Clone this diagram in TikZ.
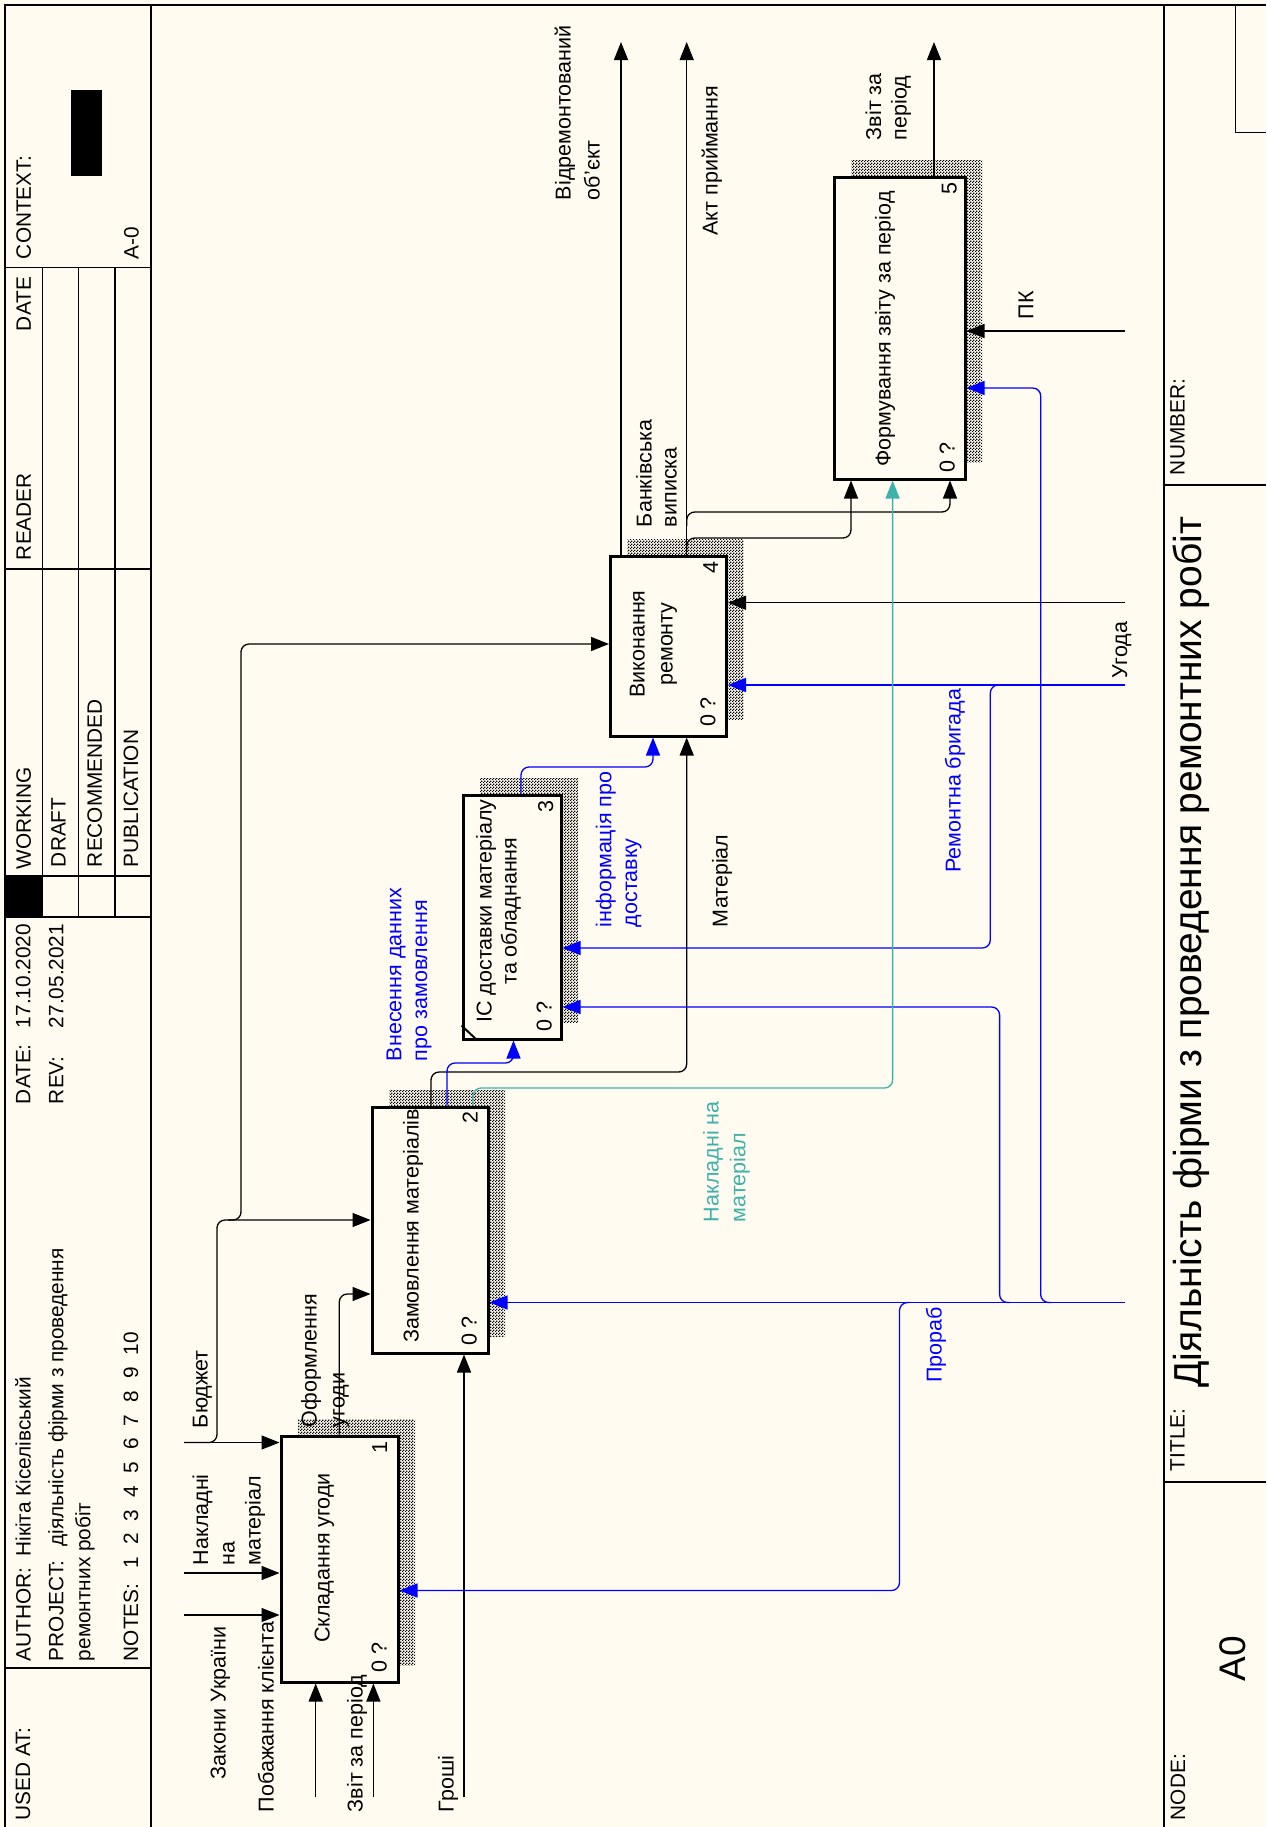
\documentclass[tikz,border=0pt]{standalone}
\usepackage{fontspec}
\setmainfont{Liberation Sans}
\usetikzlibrary{arrows.meta,patterns}
\definecolor{bg}{RGB}{255,251,240}
\definecolor{idblue}{RGB}{0,0,255}
\definecolor{idteal}{RGB}{60,178,170}
\pgfdeclarepatternformonly{finechk}{\pgfqpoint{0pt}{0pt}}{\pgfqpoint{1.5pt}{1.5pt}}{\pgfqpoint{1.5pt}{1.5pt}}{%
  \pgfpathrectangle{\pgfqpoint{0pt}{0pt}}{\pgfqpoint{0.75pt}{0.75pt}}%
  \pgfpathrectangle{\pgfqpoint{0.75pt}{0.75pt}}{\pgfqpoint{0.75pt}{0.75pt}}%
  \pgfusepath{fill}}
\tikzset{
  lbl/.style={rotate=90, anchor=west, inner sep=0pt, outer sep=0pt,
    font=\fontsize{10.75}{13}\selectfont, text height=8pt, text depth=2.3pt},
  btxt/.style={lbl, anchor=center},
  hdr/.style={rotate=90, anchor=west, inner sep=0pt, outer sep=0pt,
    font=\fontsize{10.4}{12.5}\selectfont, text height=7.8pt, text depth=2.2pt},
  fbox/.style={draw, line width=1.5pt, fill=bg, inner sep=0pt},
  shade/.style={pattern=finechk, pattern color=black},
  conn/.style={line width=0.65pt, rounded corners=4pt, -{Triangle[length=9pt,width=7pt]}},
  frm/.style={line width=1pt},
  gridl/.style={line width=0.75pt},
}
\begin{document}
\begin{tikzpicture}[x=0.5pt,y=-0.5pt]
\useasboundingbox (0,0) rectangle (1266,1827);
\fill[bg] (0,0) rectangle (1266,1827);
% frame
\draw[frm] (5,1827) -- (5,5) -- (1266,5);
\draw[frm] (151,5) -- (151,1827);
\draw[frm] (1164.3,5) -- (1164.3,1827);
% left header strip
\foreach \yy in {267.7,569,876,917,1668} \draw[gridl] (5,\yy) -- (151,\yy);
\foreach \xx in {42.4,78.7,115} \draw[gridl] (\xx,267.7) -- (\xx,917);
\fill (5,876) rectangle (42.4,917);
\fill (70.6,90) rectangle (102,176);
\node[hdr] (hCtx) at (25.2,259) {CONTEXT:};
\node[hdr] (hA0) at (133,259) {A-0};
\node[hdr] (hDate) at (25.2,331) {DATE};
\node[hdr] (hReader) at (25.2,560) {READER};
\node[hdr] (hWork) at (25.2,869) {WORKING};
\node[hdr] (hDraft) at (60,867) {DRAFT};
\node[hdr] (hRec) at (96.3,867) {RECOMMENDED};
\node[hdr] (hPub) at (132.6,867) {PUBLICATION};
\node[hdr] (hDt) at (24.8,1104) {DATE:};
\node[hdr] (hDtv) at (24.8,1028) {17.10.2020};
\node[hdr] (hRev) at (57.7,1104) {REV:};
\node[hdr] (hRevv) at (57.7,1028) {27.05.2021};
\node[hdr] (hAuth) at (25,1661) {AUTHOR:\hspace{5.5pt}Нікіта Кіселівський};
\node[hdr] (hProj) at (57.7,1661) {PROJECT:\hspace{7pt}діяльність фірми з проведення};
\node[hdr] (hProj2) at (84.8,1661) {ремонтних робіт};
\node[hdr] (hNotes) at (132.6,1661) {NOTES:};
\foreach \k [count=\i from 0] in {1,2,3,4,5,6,7,8,9}
  \node[hdr, anchor=center] (hN\k) at (132.6,1562.6-23.7*\i) {\k};
\node[hdr, anchor=center] (hN10) at (132.6,1343.5) {10};
\node[hdr] (hUsed) at (24.5,1820) {USED AT:};
% right title strip
\draw[gridl] (1164.3,485) -- (1266,485);
\draw[gridl] (1164.3,1482) -- (1266,1482);
\draw[gridl] (1235.3,5) -- (1235.3,132.7) -- (1266,132.7);
\node[hdr] (hNum) at (1179,475) {NUMBER:};
\node[hdr] (hTitle) at (1179,1471) {TITLE:};
\node[hdr] (hNode) at (1179.5,1820) {NODE:};
\node[rotate=90, anchor=west, inner sep=0pt, font=\fontsize{19.5}{23}\selectfont,
  text height=14.6pt, text depth=4.1pt] (ttl) at (1191,1388) {Діяльність фірми з проведення ремонтних робіт};
\node[rotate=90, anchor=west, inner sep=0pt, font=\fontsize{18.5}{22}\selectfont,
  text height=13.9pt, text depth=3.9pt] (nodeA0) at (1235.7,1682) {A0};
% shadows
\fill[shade] (298,1419) rectangle (415,1665);
\fill[shade] (389,1090) rectangle (505,1336);
\fill[shade] (480,778) rectangle (578,1022);
\fill[shade] (627.7,539) rectangle (743.5,719);
\fill[shade] (851,160) rectangle (982,462);
% boxes
\node[fbox, minimum width=58.5pt, minimum height=123pt] (b1) at (339.5,1559) {};
\node[fbox, minimum width=58pt, minimum height=123pt] (b2) at (430,1230) {};
\node[fbox, minimum width=49pt, minimum height=122pt] (b3) at (512,917) {};
\node[fbox, minimum width=58pt, minimum height=90pt] (b4) at (668.5,646) {};
\node[fbox, minimum width=65.5pt, minimum height=151pt] (b5) at (899.5,328) {};
\draw[line width=1pt] ([yshift=7.5pt]b3.south west) -- ([xshift=8pt]b3.south west);
% box texts
\node[btxt] (t1) at (324,1558) {Складання угоди};
\node[btxt] (t2) at (413,1226) {Замовлення матеріалів};
\node[btxt] (t3a) at (486,911) {ІС доставки матеріалу};
\node[btxt] (t3b) at (511,911) {та обладнання};
\node[btxt] (t4a) at (639,644) {Виконання};
\node[btxt] (t4b) at (667,644) {ремонту};
\node[btxt] (t5) at (885,329) {Формування звіту за період};
\node[btxt] (n1) at (381.5,1448) {1};
\node[btxt] (z1) at (381,1657.5) {0 ?};
\node[btxt] (n2) at (472,1118) {2};
\node[btxt] (z2) at (471,1331) {0 ?};
\node[btxt] (n3) at (547.5,806.5) {3};
\node[btxt] (z3) at (546,1016.5) {0 ?};
\node[btxt] (n4) at (712.5,568) {4};
\node[btxt] (z4) at (709.7,712) {0 ?};
\node[btxt] (n5) at (951,188.7) {5};
\node[btxt] (z5) at (949,457.5) {0 ?};
% free ends
\coordinate (iBud) at (184,1442.5);
\coordinate (iNak) at (184,1573);
\coordinate (iZak) at (184,1615);
\coordinate (iPob) at (315.7,1797);
\coordinate (iZvit) at (373.4,1797);
\coordinate (iGro) at (464,1797);
\coordinate (oVid) at (621,42);
\coordinate (oAkt) at (686.7,42);
\coordinate (oZvit) at (934,42);
\coordinate (mPK) at (1125,331);
\coordinate (mUg) at (1125,602.7);
\coordinate (mRem) at (1125,685);
\coordinate (mPro) at (1125,1302.5);
% black connectors
\draw[conn] (iBud) -- (b1.west |- iBud);
\draw[conn] (iBud) -| (217,1220) -- (b2.west |- 0,1220);
\draw[conn] (228,1220) -| (241,644) -- (b4.west |- 0,644);
\draw[conn] (iNak) -- (b1.west |- iNak);
\draw[conn] (iZak) -- (b1.west |- iZak);
\draw[conn] (iPob) -- (iPob |- b1.south);
\draw[conn] (iZvit) -- (iZvit |- b1.south);
\draw[conn] (b1.north -| 339.3,0) |- (b2.west |- 0,1294);
\draw[conn] (iGro) -- (iGro |- b2.south);
\draw[conn] (b2.north -| 431,0) |- (686.7,1072) -- (b4.south -| 686.7,0);
\draw[conn] (b4.north -| oVid) -- (oVid);
\draw[conn] (b4.north -| oAkt) -- (oAkt);
\draw[conn] (686.7,526) |- (950,512) -- (b5.south -| 950,0);
\draw[conn] (686.7,552) |- (851,538) -- (b5.south -| 851,0);
\draw[conn] (b5.north -| oZvit) -- (oZvit);
\draw[conn] (mPK) -- (b5.east |- mPK);
\draw[conn] (mUg) -- (b4.east |- mUg);
% blue connectors
\draw[conn,idblue] (mRem) -- (b4.east |- mRem);
\draw[conn,idblue] (1000,685) -| (990.3,948) -- (b3.east |- 0,948);
\draw[conn,idblue] (mPro) -- (b2.east |- mPro);
\draw[conn,idblue] (910,1302.5) -| (899.5,1590.5) -- (b1.east |- 0,1590.5);
\draw[conn,idblue] (1010,1302.5) -| (999.6,1007) -- (b3.east |- 0,1007);
\draw[conn,idblue] (1051,1302.5) -| (1040.7,388) -- (b5.east |- 0,388);
\draw[conn,idblue] (b2.north -| 447,0) |- (513.5,1063) -- (b3.south -| 513.5,0);
\draw[conn,idblue] (b3.north -| 521,0) |- (653,767) -- (b4.south -| 653,0);
% teal connector
\draw[conn,idteal] (b2.north -| 473,0) |- (892.6,1088) -- (b5.south -| 892.6,0);
% labels
\node[lbl] (lVid1) at (565,200) {Відремонтований};
\node[lbl] (lVid2) at (594,200) {об'єкт};
\node[lbl] (lAkt) at (712,235.4) {Акт приймання};
\node[lbl] (lZv1) at (875.5,140) {Звіт за};
\node[lbl] (lZv2) at (901,140) {період};
\node[lbl] (lPK) at (1027.6,319) {ПК};
\node[lbl] (lBank1) at (646,527) {Банківська};
\node[lbl] (lBank2) at (671,527) {виписка};
\node[lbl] (lUg) at (1121.5,678) {Угода};
\node[lbl,idblue] (lRem) at (954.8,872.6) {Ремонтна бригада};
\node[lbl] (lMat) at (721.8,927) {Матеріал};
\node[lbl,idblue] (lInf1) at (605.6,927) {інформація про};
\node[lbl,idblue] (lInf2) at (631.5,927) {доставку};
\node[lbl,idblue] (lVn1) at (395.6,1061) {Внесення данних};
\node[lbl,idblue] (lVn2) at (421.5,1061) {про замовлення};
\node[lbl,idteal] (lNk1) at (713,1222) {Накладні на};
\node[lbl,idteal] (lNk2) at (739.7,1222) {матеріал};
\node[lbl] (lBud) at (202,1428) {Бюджет};
\node[lbl] (lOf1) at (311,1427) {Оформлення};
\node[lbl] (lOf2) at (339,1427) {угоди};
\node[lbl] (lNa1) at (202.5,1565) {Накладні};
\node[lbl] (lNa2) at (229,1565) {на};
\node[lbl] (lNa3) at (254.8,1565) {матеріал};
\node[lbl] (lZak) at (220,1779) {Закони України};
\node[lbl] (lPob) at (268,1812) {Побажання клієнта};
\node[lbl] (lZvp) at (357,1812) {Звіт за період};
\node[lbl] (lGro) at (448,1812) {Гроші};
\node[lbl,idblue] (lPro) at (936,1382.6) {Прораб};
\end{tikzpicture}
\end{document}
